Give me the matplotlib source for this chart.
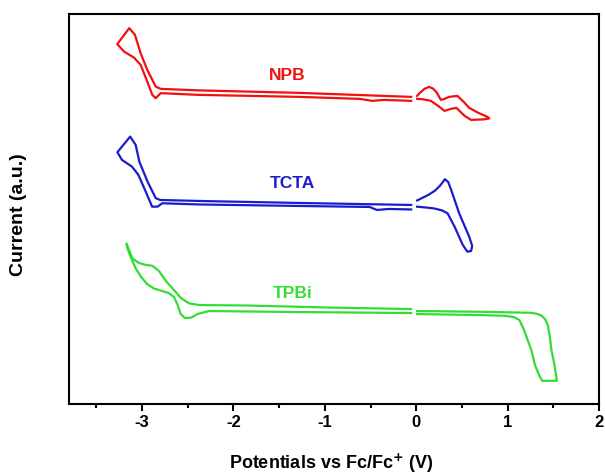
import numpy as np
import matplotlib
matplotlib.use("Agg")
import matplotlib.pyplot as plt
from matplotlib.ticker import MultipleLocator

plt.rcParams['font.family'] = ['Liberation Sans', 'DejaVu Sans']
plt.rcParams['font.weight'] = 'bold'
plt.rcParams['axes.unicode_minus'] = False

# potentials (V vs Fc/Fc+) and currents (a.u., stacked)
# NPB
npb_red_v = [-0.055, -1.28, -2.38, -2.796, -2.851, -2.943, -3.016, -3.078, -3.14, -3.272, -3.198,
             -3.089, -3.016, -2.943, -2.888, -2.851, -2.796, -2.38, -1.28, -0.62, -0.48, -0.35, -0.055]
npb_red_i = [30.7, 31.1, 31.35, 31.5, 31.73, 33.4, 35.07, 36.9, 37.57, 35.97, 35.23,
             34.63, 33.9, 32.23, 30.9, 30.57, 31.07, 30.9, 30.7, 30.5, 30.3, 30.4, 30.3]
npb_ox_v = [0.01, 0.04, 0.09, 0.14, 0.18, 0.22, 0.27, 0.31, 0.36, 0.45, 0.52, 0.58, 0.68, 0.78, 0.80,
            0.74, 0.60, 0.53, 0.44, 0.38, 0.31, 0.24, 0.16, 0.08, 0.01]
npb_ox_i = [30.8, 31.1, 31.5, 31.7, 31.55, 31.2, 30.4, 30.5, 30.7, 30.8, 30.2, 29.6, 29.1, 28.7, 28.55,
            28.45, 28.4, 28.8, 29.6, 29.5, 29.3, 29.8, 30.3, 30.45, 30.5]

# TCTA
tcta_red_v = [-0.055, -1.28, -2.38, -2.80, -2.85, -2.94, -3.03, -3.07, -3.13, -3.27, -3.22,
              -3.11, -3.04, -2.96, -2.89, -2.83, -2.78, -2.38, -1.28, -0.51, -0.43, -0.30, -0.055]
tcta_red_i = [19.9, 20.1, 20.3, 20.4, 20.57, 22.23, 24.23, 25.9, 26.73, 25.17, 24.4,
              23.73, 22.9, 21.23, 19.73, 19.73, 20.07, 19.95, 19.8, 19.7, 19.4, 19.5, 19.45]
tcta_ox_v = [0.01, 0.077, 0.142, 0.208, 0.263, 0.314, 0.35, 0.383, 0.47, 0.58, 0.613, 0.60, 0.56,
             0.51, 0.42, 0.343, 0.285, 0.197, 0.124, 0.01]
tcta_ox_i = [20.35, 20.65, 20.95, 21.35, 21.85, 22.47, 22.2, 21.4, 19.07, 16.73, 15.8, 15.3, 15.23,
             15.9, 17.73, 19.07, 19.35, 19.55, 19.63, 19.73]

# TPBi
tpbi_red_v = [-0.055, -0.95, -1.83, -2.377, -2.486, -2.574, -2.651, -2.738, -2.815, -2.888, -2.957,
              -3.034, -3.107, -3.17, -3.16, -3.12, -3.07, -3.01, -2.946, -2.87, -2.78, -2.71,
              -2.65, -2.61, -2.577, -2.53, -2.46, -2.395, -2.27, -1.28, -0.055]
tpbi_red_i = [9.5, 9.65, 9.85, 9.9, 10.07, 10.6, 11.4, 12.3, 13.3, 13.83, 13.9,
              14.1, 14.57, 16.04, 15.57, 14.6, 13.57, 12.7, 12.0, 11.55, 11.3, 11.1,
              10.7, 9.9, 9.0, 8.6, 8.65, 9.0, 9.3, 9.2, 9.1]
tpbi_ox_v = [0.01, 0.69, 1.24, 1.31, 1.37, 1.41, 1.44, 1.46, 1.48, 1.51, 1.54, 1.38,
             1.35, 1.30, 1.26, 1.18, 1.13, 1.07, 0.96, 0.69, 0.01]
tpbi_ox_i = [9.3, 9.23, 9.13, 9.05, 8.85, 8.5, 7.9, 6.9, 5.4, 4.07, 2.33, 2.33,
             2.8, 3.9, 5.4, 7.4, 8.4, 8.7, 8.83, 8.9, 9.0]

names = ['NPB', 'TCTA', 'TPBi']
colors = ['#f01010', '#1c1ccc', '#33dd33']
label_x = [-1.41, -1.35, -1.35]
label_y = [32.8, 22.0, 11.1]

scans = [
    [(npb_red_v, npb_red_i), (npb_ox_v, npb_ox_i)],
    [(tcta_red_v, tcta_red_i), (tcta_ox_v, tcta_ox_i)],
    [(tpbi_red_v, tpbi_red_i), (tpbi_ox_v, tpbi_ox_i)],
]

fig, ax = plt.subplots(figsize=(6.05, 4.76), dpi=100)
fig.subplots_adjust(left=0.114, right=0.99, top=0.971, bottom=0.151)

for k in range(3):
    for v, i in scans[k]:
        ax.plot(v, i, color=colors[k], lw=1.6)
    ax.text(label_x[k], label_y[k], names[k], color=colors[k], fontsize=12.5,
            fontweight='bold', ha='center', va='center')

ax.set_xlim(-3.8, 2)
ax.set_ylim(0, 39)
ax.xaxis.set_major_locator(MultipleLocator(1))
ax.xaxis.set_minor_locator(MultipleLocator(0.5))
ax.set_yticks([])
ax.tick_params(axis='x', which='major', direction='out', length=5, width=1.5,
               labelsize=12, top=False, pad=3)
ax.tick_params(axis='x', which='minor', direction='out', length=3, width=1.5, top=False)
for lab in ax.get_xticklabels():
    lab.set_fontweight('bold')
for s in ax.spines.values():
    s.set_linewidth(1.5)

ax.set_xlabel('Potentials vs Fc/Fc$^{\\mathbf{+}}$ (V)', fontsize=13, fontweight='bold')
ax.set_ylabel('Current (a.u.)', fontsize=14, fontweight='bold')
ax.xaxis.set_label_coords(0.495, -0.123)
ax.yaxis.set_label_coords(-0.079, 0.485)

fig.savefig('out.png', dpi=100)
